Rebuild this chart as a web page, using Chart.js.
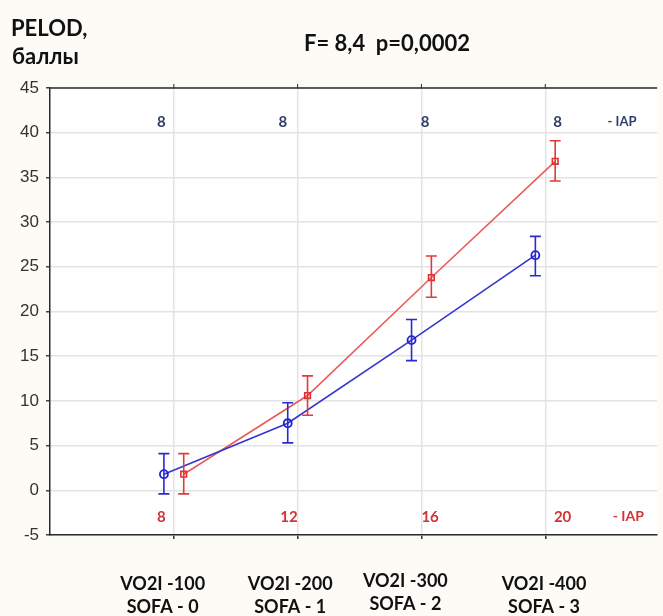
<!DOCTYPE html>
<html>
<head>
<meta charset="utf-8">
<script src="https://cdn.jsdelivr.net/npm/chart.js@4.4.0/dist/chart.umd.min.js"></script>
<style>
  html, body { margin: 0; padding: 0; background: #fdfbf6; }
  #wrap { width: 663px; height: 616px; position: relative; }
</style>
</head>
<body>
<div id="wrap"><canvas id="grafico" width="663" height="616"></canvas></div>
<script>
// categorias del eje x
let categorias = [1, 2, 3, 4];
let etiquetasVO2 = ['VO2I -100', 'VO2I -200', 'VO2I -300', 'VO2I -400'];
let etiquetasSOFA = ['SOFA - 0', 'SOFA - 1', 'SOFA - 2', 'SOFA - 3'];

// serie azul (circulos)
let azulMedia = [1.8, 7.5, 16.8, 26.3];
let azulMin = [-0.4, 5.3, 14.5, 24.0];
let azulMax = [4.1, 9.8, 19.1, 28.4];

// serie roja (cuadrados)
let rojoMedia = [1.8, 10.6, 23.8, 36.8];
let rojoMin = [-0.4, 8.4, 21.6, 34.6];
let rojoMax = [4.1, 12.8, 26.2, 39.1];

// IAP arriba y abajo
let iapArriba = [8, 8, 8, 8];
let iapAbajo = [8, 12, 16, 20];

let ticksY = [-5, 0, 5, 10, 15, 20, 25, 30, 35, 40, 45];

const desplazamiento = 0.08;
const puntosAzul = categorias.map((c, i) => ({x: c - desplazamiento, y: azulMedia[i]}));
const puntosRojo = categorias.map((c, i) => ({x: c + desplazamiento, y: rojoMedia[i]}));

const fuente = 'Lato, "Open Sans", sans-serif';

// fondo blanco del area de trazado + borde superior
const fondo = {
  id: 'fondo',
  beforeDraw(chart) {
    const {ctx, chartArea: a} = chart;
    ctx.save();
    ctx.fillStyle = '#ffffff';
    ctx.fillRect(a.left, a.top, a.right - a.left, a.bottom - a.top);
    ctx.restore();
  },
  afterDraw(chart) {
    const {ctx, chartArea: a} = chart;
    ctx.save();
    ctx.strokeStyle = '#2b2b2b';
    ctx.lineWidth = 1.5;
    ctx.beginPath();
    ctx.moveTo(a.left, a.top);
    ctx.lineTo(a.right, a.top);
    ctx.stroke();
    // marcas arriba
    const x = chart.scales.x;
    ctx.lineWidth = 1;
    categorias.forEach(c => {
      const px = x.getPixelForValue(c);
      ctx.beginPath();
      ctx.moveTo(px, a.top);
      ctx.lineTo(px, a.top - 4);
      ctx.stroke();
    });
    ctx.restore();
  }
};

// barras de error
const barrasError = {
  id: 'barrasError',
  afterDatasetsDraw(chart) {
    const {ctx} = chart;
    const y = chart.scales.y;
    const rangos = [[azulMin, azulMax], [rojoMin, rojoMax]];
    const colores = ['#2a2ad2', '#e03a3a'];
    ctx.save();
    chart.data.datasets.forEach((ds, d) => {
      const meta = chart.getDatasetMeta(d);
      ctx.strokeStyle = colores[d];
      ctx.lineWidth = 1.6;
      meta.data.forEach((p, i) => {
        const y1 = y.getPixelForValue(rangos[d][0][i]);
        const y2 = y.getPixelForValue(rangos[d][1][i]);
        ctx.beginPath();
        ctx.moveTo(p.x, y1); ctx.lineTo(p.x, y2);
        ctx.moveTo(p.x - 5.5, y1); ctx.lineTo(p.x + 5.5, y1);
        ctx.moveTo(p.x - 5.5, y2); ctx.lineTo(p.x + 5.5, y2);
        ctx.stroke();
      });
    });
    ctx.restore();
  }
};

// textos: titulo, IAP, etiquetas del eje x
const textos = {
  id: 'textos',
  afterDraw(chart) {
    const {ctx} = chart;
    const x = chart.scales.x, y = chart.scales.y;
    ctx.save();
    ctx.textBaseline = 'middle';

    ctx.fillStyle = '#111';
    ctx.font = 'bold 22px ' + fuente;
    ctx.textAlign = 'left';
    ctx.fillText('PELOD,', 11, 29);
    ctx.fillText('баллы', 12, 57);
    ctx.textAlign = 'center';
    ctx.font = 'bold 22px ' + fuente;
    ctx.fillText('F= 8,4  p=0,0002', 387, 44);

    // IAP arriba
    const posArriba = [-0.1, -0.12, 0.03, 0.1];
    ctx.font = 'bold 15px ' + fuente;
    ctx.fillStyle = '#2e3d6b';
    iapArriba.forEach((v, i) => {
      ctx.fillText(String(v), x.getPixelForValue(categorias[i] + posArriba[i]), y.getPixelForValue(41.2));
    });
    ctx.font = 'bold 13px ' + fuente;
    ctx.fillText('- IAP', x.getPixelForValue(4.62), y.getPixelForValue(41.2));

    // IAP abajo
    const posAbajo = [-0.1, -0.07, 0.07, 0.14];
    ctx.font = 'bold 15px ' + fuente;
    ctx.fillStyle = '#d03434';
    iapAbajo.forEach((v, i) => {
      ctx.fillText(String(v), x.getPixelForValue(categorias[i] + posAbajo[i]), y.getPixelForValue(-2.95));
    });
    ctx.font = 'bold 14px ' + fuente;
    ctx.fillText('- IAP', x.getPixelForValue(4.67), y.getPixelForValue(-2.95));

    // etiquetas del eje x
    const posEtiq = [-0.09, -0.06, -0.13, -0.01];
    const subida = [0, 0, -3, 0];
    ctx.fillStyle = '#111';
    ctx.font = 'bold 18px ' + fuente;
    etiquetasVO2.forEach((t, i) => {
      const px = x.getPixelForValue(categorias[i] + posEtiq[i]);
      ctx.fillText(t, px, 584 + subida[i]);
      ctx.fillText(etiquetasSOFA[i], px, 607 + subida[i]);
    });
    ctx.restore();
  }
};

const ctx = document.getElementById('grafico').getContext('2d');
const grafico = new Chart(ctx, {
  type: 'line',
  data: {
    datasets: [{
      label: 'azul',
      data: puntosAzul,
      borderColor: '#3535d0',
      backgroundColor: 'rgba(255,255,255,0)',
      borderWidth: 1.6,
      pointStyle: 'circle',
      pointRadius: 4,
      pointBorderWidth: 1.8,
      pointBorderColor: '#2020d0',
      tension: 0
    }, {
      label: 'rojo',
      data: puntosRojo,
      borderColor: '#ea5c5c',
      backgroundColor: 'rgba(255,255,255,0)',
      borderWidth: 1.6,
      pointStyle: 'rect',
      pointRadius: 4,
      pointBorderWidth: 1.6,
      pointBorderColor: '#e03030',
      tension: 0
    }]
  },
  options: {
    responsive: false,
    animation: false,
    events: [],
    layout: { padding: { left: 0, right: 0, top: 88, bottom: 0 } },
    plugins: { legend: { display: false }, tooltip: { enabled: false } },
    scales: {
      x: {
        type: 'linear',
        min: 0,
        max: 4.904,
        afterBuildTicks: s => { s.ticks = categorias.map(v => ({value: v})); },
        afterFit: s => { s.height = 81; },
        ticks: { callback: () => '', padding: 0 },
        grid: { color: '#e3e3e3', lineWidth: 1.5, tickColor: '#333', tickLength: 4 },
        border: { color: '#2b2b2b', width: 1.5 }
      },
      y: {
        min: -5,
        max: 45,
        afterBuildTicks: s => { s.ticks = ticksY.map(v => ({value: v})); },
        afterFit: s => { s.width = 50; },
        ticks: {
          color: '#333',
          padding: 7,
          font: { family: '"Liberation Sans", Arial, sans-serif', size: 17 }
        },
        grid: { color: '#e3e3e3', lineWidth: 1.5, tickColor: '#444', tickLength: 4 },
        border: { color: '#2b2b2b', width: 1.5 }
      }
    }
  },
  plugins: [fondo, barrasError, textos]
});
</script>
</body>
</html>
